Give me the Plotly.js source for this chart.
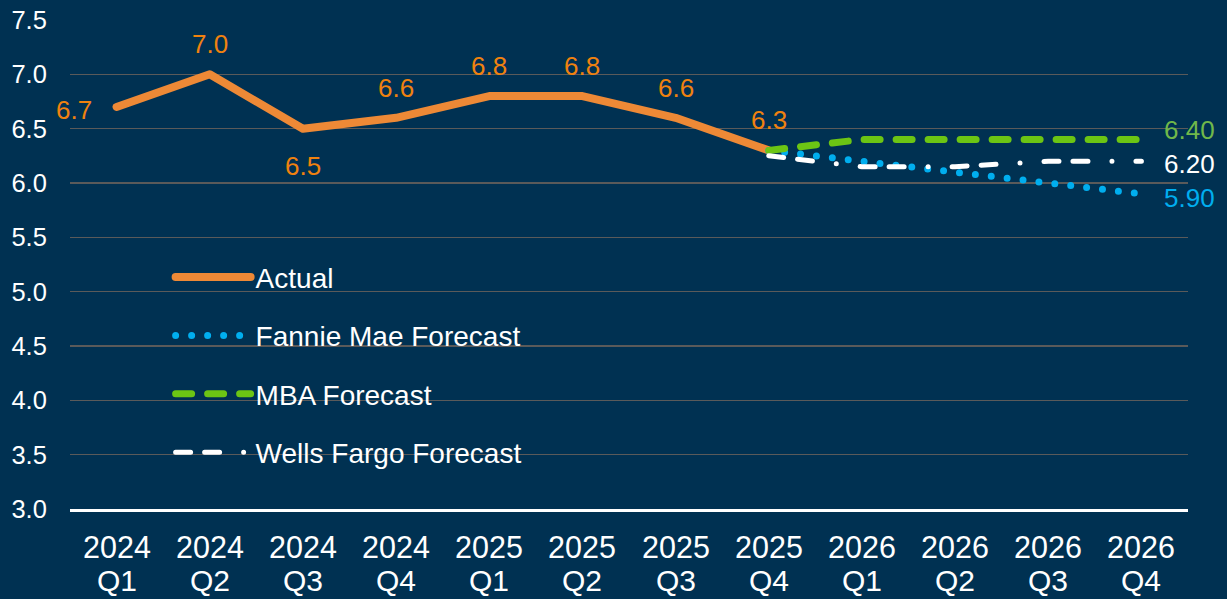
<!DOCTYPE html>
<html>
<head>
<meta charset="utf-8">
<script src="https://cdn.plot.ly/plotly-3.0.1.min.js"></script>
<style>
  html, body { margin: 0; padding: 0; background: #003152; }
  #chart { width: 1227px; height: 599px; }
  .js-plotly-plot path.js-line { stroke-linecap: round !important; stroke-linejoin: round !important; }
</style>
</head>
<body>
<div id="chart"></div>
<script>
const years    = ['2024','2024','2024','2024','2025','2025','2025','2025','2026','2026','2026','2026'];
const qtrs     = ['Q1','Q2','Q3','Q4','Q1','Q2','Q3','Q4','Q1','Q2','Q3','Q4'];
const quarters = years.map((y, i) => y + ' ' + qtrs[i]);
const actual    = [6.7, 7.0, 6.5, 6.6, 6.8, 6.8, 6.6, 6.3, null, null, null, null];
const fannieMae = [null, null, null, null, null, null, null, 6.3, 6.2, 6.1, 6.0, 5.9];
const mba       = [null, null, null, null, null, null, null, 6.3, 6.4, 6.4, 6.4, 6.4];
const wellsFargo= [null, null, null, null, null, null, null, 6.25, 6.15, 6.15, 6.2, 6.2];
const yTicks = [3.0, 3.5, 4.0, 4.5, 5.0, 5.5, 6.0, 6.5, 7.0, 7.5];

const FONT = 'Liberation Sans, Arial, sans-serif';
const BG = '#003152';
const ORANGE_LINE = '#ED8936';
const ORANGE_TEXT = '#F0820F';
const BLUE = '#00AEEF';
const GREEN = '#6CC514';
const GREEN_TEXT = '#70B84A';

const traces = [
  {
    x: quarters, y: actual, name: 'Actual', mode: 'lines',
    line: {color: ORANGE_LINE, width: 8}, legendgroup: 'a'
  },
  {
    x: quarters, y: fannieMae, name: 'Fannie Mae Forecast', mode: 'lines',
    line: {color: BLUE, width: 7, dash: '0px,16px'}, legendgroup: 'b'
  },
  {
    x: quarters, y: mba, name: 'MBA Forecast', mode: 'lines',
    line: {color: GREEN, width: 7, dash: '16px,16px'}, legendgroup: 'c'
  },
  {
    x: quarters, y: wellsFargo, name: 'Wells Fargo Forecast', mode: 'lines',
    line: {color: '#FFFFFF', width: 5, dash: '15px,14px,15px,24px,0px,24px'}, legendgroup: 'd'
  }
];

const annotations = [];
// Actual data labels
actual.forEach((v, i) => {
  if (v == null) return;
  const a = {x: quarters[i], y: v, text: v.toFixed(1), showarrow: false,
             font: {family: FONT, size: 26, color: ORANGE_TEXT}};
  if (i === 0) { a.xanchor = 'right'; a.xshift = -23; a.yshift = -3; }
  else if (i === 2) { a.yshift = -37; }
  else { a.yshift = 30; }
  annotations.push(a);
});
// End-of-series forecast labels
function lastVal(arr) { for (let i = arr.length - 1; i >= 0; i--) if (arr[i] != null) return [i, arr[i]]; }
[[mba, GREEN_TEXT, 10], [wellsFargo, '#FFFFFF', -3], [fannieMae, BLUE, -4]].forEach(([arr, col, ys]) => {
  const [i, v] = lastVal(arr);
  annotations.push({x: quarters[i], y: v, text: v.toFixed(2), showarrow: false, xanchor: 'left',
                    xshift: 21, yshift: ys, font: {family: FONT, size: 26, color: col}});
});
// Two-line category labels
quarters.forEach((q, i) => {
  annotations.push({x: q, xref: 'x', y: 0, yref: 'paper', yanchor: 'middle', yshift: -38,
                    text: years[i], showarrow: false, font: {family: FONT, size: 30.5, color: '#FFFFFF'}});
  annotations.push({x: q, xref: 'x', y: 0, yref: 'paper', yanchor: 'middle', yshift: -71,
                    text: qtrs[i], showarrow: false, borderpad: 0,
                    font: {family: FONT, size: 30, color: '#FFFFFF'}});
});

const layout = {
  width: 1227, height: 599,
  paper_bgcolor: BG, plot_bgcolor: BG,
  margin: {l: 70, r: 39, t: 20, b: 90},
  font: {family: FONT, color: '#FFFFFF', size: 24},
  showlegend: true,
  legend: {
    x: 0.09, y: 0.525, xanchor: 'left', yanchor: 'top',
    bgcolor: 'rgba(0,0,0,0)', font: {family: FONT, size: 28, color: '#FFFFFF'},
    itemwidth: 75, tracegroupgap: 19, traceorder: 'grouped'
  },
  xaxis: {
    type: 'category', range: [-0.5, 11.5], automargin: false,
    showgrid: false, showline: true, linecolor: '#FFFFFF', linewidth: 3,
    showticklabels: false, ticks: '', zeroline: false, fixedrange: true
  },
  yaxis: {
    range: [3, 7.5], automargin: false, tickvals: yTicks, ticktext: yTicks.map(v => v.toFixed(1)),
    showgrid: true, gridcolor: '#5A5A5A', gridwidth: 1.5, zeroline: false, showline: false,
    ticks: 'outside', ticklen: 17, tickcolor: BG,
    tickfont: {family: FONT, size: 25.5, color: '#FFFFFF'}
  },
  annotations: annotations,
  hovermode: false
};

Plotly.newPlot('chart', traces, layout, {displayModeBar: false, staticPlot: true});
</script>
</body>
</html>
